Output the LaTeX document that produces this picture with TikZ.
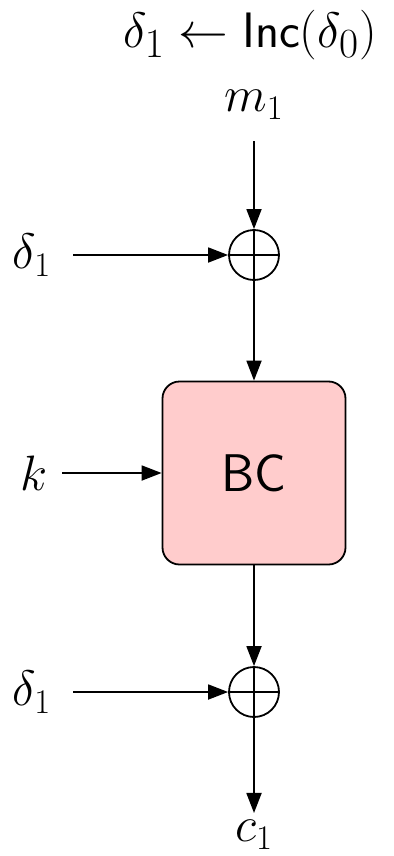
\documentclass[tikz,border=0pt]{standalone}
\usepackage{amsmath,amssymb}
\usetikzlibrary{arrows.meta}
\definecolor{bcfill}{RGB}{255,204,204}

\tikzset{
  xorop/.style={circle, draw, inner sep=0pt, minimum size=25pt,
    path picture={
      \draw (path picture bounding box.north) -- (path picture bounding box.south)
            (path picture bounding box.west) -- (path picture bounding box.east);}},
  bcbox/.style={draw, fill=bcfill, rounded corners=8.5pt,
    minimum width=91.5pt, minimum height=91.5pt,
    font=\fontsize{26.5}{32}\selectfont\sffamily},
  lbl/.style={inner sep=10.5pt}
}

\begin{document}
\begin{tikzpicture}[x=0.5pt, y=-0.5pt, >={Triangle[length=10pt,width=7.5pt]},
    line width=0.9pt, font=\fontsize{26.5}{32}\selectfont]
\useasboundingbox (0,0) rectangle (393,856);

% top
\node[inner sep=0pt, font=\fontsize{32.5}{38}\selectfont] (title) at (250,35) {$\delta_1 \leftarrow \mathsf{Inc}(\delta_0)$};
\node[lbl] (m1) at (254,105) {$m_1$};

% first xor
\node[xorop] (xa) at (254,255) {};
\node[lbl] (da) at (32,255) {$\delta_1$};
\draw[->] (m1) -- (xa);
\draw[->] (da) -- (xa);

% block cipher
\node[bcbox] (bc) at (254,473) {BC};
\node[inner sep=7pt] (k) at (34,473) {$k$};
\draw[->] (xa) -- (bc);
\draw[->] (k) -- (bc);

% second xor
\node[xorop] (xb) at (254,692) {};
\node[lbl] (db) at (32,692) {$\delta_1$};
\node (c1) at (254,835) {$c_1$};
\draw[->] (bc) -- (xb);
\draw[->] (db) -- (xb);
\draw[->] (xb) -- (c1);

\end{tikzpicture}
\end{document}
